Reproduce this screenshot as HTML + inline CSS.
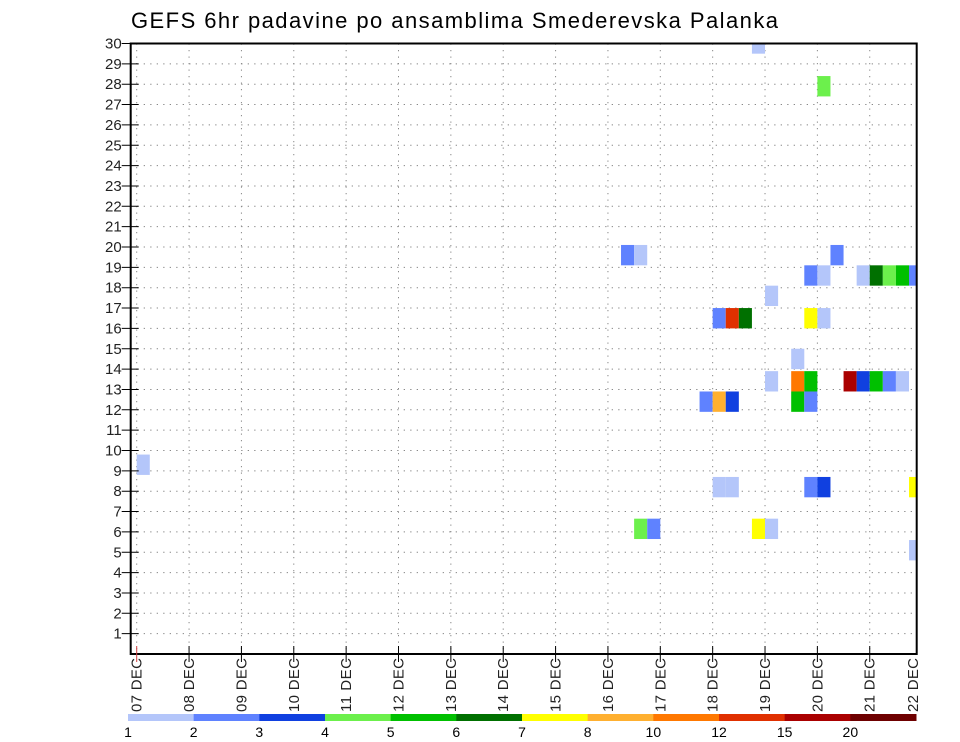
<!DOCTYPE html>
<html><head><meta charset="utf-8"><style>
html,body{margin:0;padding:0;background:#fff;}
svg{display:block;font-family:"Liberation Sans","DejaVu Sans",sans-serif;}
</style></head><body>
<svg id="chart" width="960" height="742" viewBox="0 0 960 742" xmlns="http://www.w3.org/2000/svg">
<text x="131" y="28" font-size="22" textLength="647" lengthAdjust="spacing" fill="#000">GEFS 6hr padavine po ansamblima Smederevska Palanka</text>
<g id="grid"></g>
<g id="cells"></g>
<g id="axes"></g>
<g id="colorbar"></g>
</svg>
<script>
// ---- data ----
const dayLabels = ["07 DEC","08 DEC","09 DEC","10 DEC","11 DEC","12 DEC","13 DEC","14 DEC","15 DEC","16 DEC","17 DEC","18 DEC","19 DEC","20 DEC","21 DEC","22 DEC"];
const memberTicks = [1,2,3,4,5,6,7,8,9,10,11,12,13,14,15,16,17,18,19,20,21,22,23,24,25,26,27,28,29,30];
const levelLabels = ["1","2","3","4","5","6","7","8","10","12","15","20"];
const levelColors = ["#b4c6fa","#5f82ff","#1040e0","#6cf04c","#00c000","#007000","#ffff00","#ffb030","#ff7800","#e03000","#aa0000","#6e0000"];
// cells: 6-hour step index from 07 DEC 00z, ensemble row (center value on y axis), colour class
const cellStep   = [0,   37,  38,  53,  51,  52,  55,  56,  57,  58,  59,  48,  44,  45,  46,  51,  52,  50,  48,  50,  51,  54,  55,  56,  57,  58,  43,  44,  45,  50,  51,  47,  52,  44,  45,  51,  52,  59,  38,  39,  47,  48,  59];
const cellMember = [9.3, 19.6,19.6,19.6,18.6,18.6,18.6,18.6,18.6,18.6,18.6,17.6,16.5,16.5,16.5,16.5,16.5,14.5,13.4,13.4,13.4,13.4,13.4,13.4,13.4,13.4,12.4,12.4,12.4,12.4,12.4,30,  27.9,8.2, 8.2, 8.2, 8.2, 8.2, 6.15,6.15,6.15,6.15,5.1];
const cellClass  = [0,   1,   0,   1,   1,   0,   0,   5,   3,   4,   1,   0,   1,   9,   5,   6,   0,   0,   0,   8,   4,   10,  2,   4,   1,   0,   1,   7,   2,   4,   1,   0,   3,   0,   0,   1,   2,   6,   3,   1,   6,   0,   0];

// ---- scales ----
const X0 = 136.7, DAY = 52.36, LEFT = 130.7, RIGHT = 916.7, TOP = 43.5, BOTTOM = 654;
const ROW = (BOTTOM - TOP) / 30;
function xDay(d){ return X0 + d * DAY; }
function xStep(s){ return X0 + s * DAY / 4; }
function yVal(v){ return BOTTOM - v * ROW; }
const NS = "http://www.w3.org/2000/svg";
function mk(tag, attrs, parent){ const e = document.createElementNS(NS, tag); for (const k in attrs) e.setAttribute(k, attrs[k]); parent.appendChild(e); return e; }

const grid = document.getElementById('grid');
const cells = document.getElementById('cells');
const axes = document.getElementById('axes');
const cbar = document.getElementById('colorbar');

const defs = mk('defs', {}, document.getElementById('chart'));
const cp = mk('clipPath', {id:'plotclip'}, defs);
mk('rect', {x:LEFT, y:TOP, width:RIGHT-LEFT, height:BOTTOM-TOP}, cp);
cells.setAttribute('clip-path', 'url(#plotclip)');

// grid lines
memberTicks.forEach(m => {
  const l = mk('line', {x1:LEFT, x2:RIGHT, y1:yVal(m), y2:yVal(m), stroke:'#888', 'stroke-width':1, 'stroke-dasharray':'1.3 5.2'}, grid);
  
  
});
dayLabels.forEach((d, i) => {
  const x = xDay(i); if (x > RIGHT) return;
  const l = mk('line', {x1:x, x2:x, y1:TOP, y2:BOTTOM, stroke:'#888', 'stroke-width':1, 'stroke-dasharray':'1.3 5.2'}, grid);
  
  
});

// cells
for (let k = 0; k < cellStep.length; k++) {
  const x1 = xStep(cellStep[k]), x2 = xStep(cellStep[k] + 1);
  const y1 = yVal(cellMember[k] + 0.5), y2 = yVal(cellMember[k] - 0.5);
  const r = mk('rect', {x:x1, y:y1, width:x2-x1, height:y2-y1, fill:levelColors[cellClass[k]]}, cells);
  
  
}

// frame
const fr = mk('rect', {x:LEFT, y:TOP, width:RIGHT-LEFT, height:BOTTOM-TOP, fill:'none', stroke:'#000', 'stroke-width':2}, axes);



// y ticks/labels
memberTicks.forEach(m => {
  const y = yVal(m);
  mk('line', {x1:LEFT-9, x2:LEFT+8, y1:y, y2:y, stroke:'#000', 'stroke-width':1}, axes);
  const t = mk('text', {x:LEFT-9, y:y+5, 'font-size':15, 'text-anchor':'end', fill:'#222'}, axes);
  t.textContent = m;
  
  
});

// x ticks/labels
dayLabels.forEach((d, i) => {
  let x = xDay(i);
  if (x <= RIGHT) mk('line', {x1:x, x2:x, y1:BOTTOM-8, y2:BOTTOM+8, stroke: i===0 ? '#d04040' : '#000', 'stroke-width':1}, axes);
  if (x > RIGHT) x = 913;
  const t = mk('text', {x:0, y:0, 'font-size':15, 'text-anchor':'start', textLength:54, lengthAdjust:'spacing', fill:'#222', transform:'translate(' + (x+5) + ',' + (BOTTOM+58) + ') rotate(-90)'}, axes);
  t.textContent = d;
  
  
});

// colorbar
const CB0 = 128, CB1 = 916, CBY = 714, CBH = 7;
const segW = (CB1 - CB0) / levelColors.length;
levelColors.forEach((c, i) => {
  const r = mk('rect', {x:CB0 + i*segW, y:CBY, width:segW+0.5, height:CBH, fill:c}, cbar);
  
  
});
levelLabels.forEach((l, i) => {
  const t = mk('text', {x:CB0 + i*segW, y:737, 'font-size':14, 'text-anchor':'middle', fill:'#000'}, cbar);
  t.textContent = l;
  
  
});
</script>
</body></html>
